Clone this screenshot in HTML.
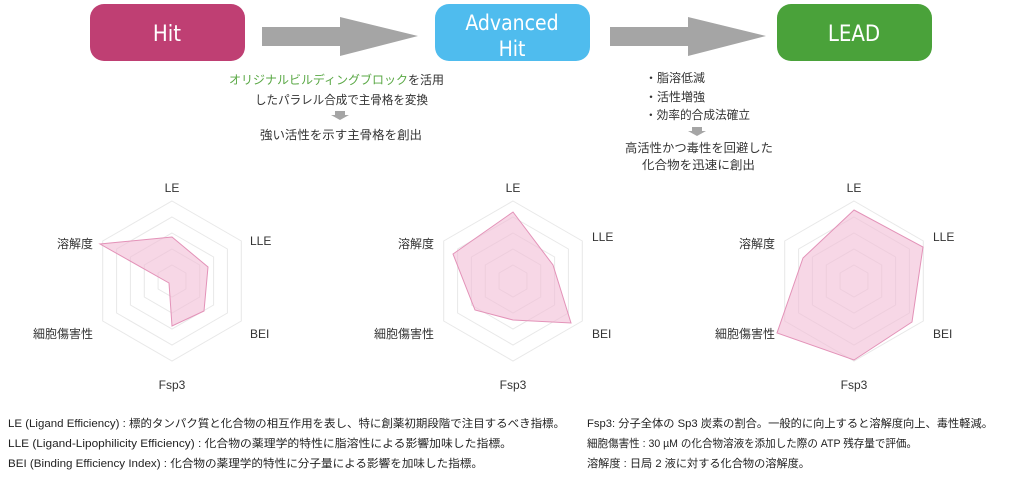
<!DOCTYPE html>
<html><head><meta charset="utf-8"><style>
html,body{margin:0;padding:0;background:#fff;}
svg{display:block;font-family:"Liberation Sans","Noto Sans CJK JP",sans-serif;}
</style></head><body>
<svg width="1024" height="480" viewBox="0 0 1024 480" xmlns="http://www.w3.org/2000/svg">
<defs>
<g id="rings" fill="none" stroke="#e8e8e8" stroke-width="1">
<polygon points="0,-80 69.3,-40 69.3,40 0,80 -69.3,40 -69.3,-40"/>
<polygon points="0,-64 55.4,-32 55.4,32 0,64 -55.4,32 -55.4,-32"/>
<polygon points="0,-48 41.6,-24 41.6,24 0,48 -41.6,24 -41.6,-24"/>
<polygon points="0,-32 27.7,-16 27.7,16 0,32 -27.7,16 -27.7,-16"/>
<polygon points="0,-16 13.9,-8 13.9,8 0,16 -13.9,8 -13.9,-8"/>
</g>
</defs>
<!-- boxes -->
<rect x="90" y="4" width="155" height="57" rx="14" fill="#bf3f73"/>
<text x="167" y="41" font-size="22" fill="#fff" text-anchor="middle" font-family="DejaVu Sans Condensed, DejaVu Sans, sans-serif">Hit</text>
<rect x="435" y="4" width="155" height="57" rx="14" fill="#4fbcee"/>
<text x="512" y="30" font-size="21" fill="#fff" text-anchor="middle" font-family="DejaVu Sans Condensed, DejaVu Sans, sans-serif">Advanced</text>
<text x="512" y="56" font-size="21" fill="#fff" text-anchor="middle" font-family="DejaVu Sans Condensed, DejaVu Sans, sans-serif">Hit</text>
<rect x="777" y="4" width="155" height="57" rx="14" fill="#4aa23a"/>
<text x="854" y="41" font-size="22" fill="#fff" text-anchor="middle" font-family="DejaVu Sans Condensed, DejaVu Sans, sans-serif">LEAD</text>
<!-- arrows -->
<polygon points="262,27 340,27 340,17 418,36 340,56 340,46 262,46" fill="#a5a5a5"/>
<polygon points="610,27 688,27 688,17 766,36 688,56 688,46 610,46" fill="#a5a5a5"/>
<!-- middle text -->
<g font-size="12" fill="#333">
<text x="229" y="84" textLength="215" lengthAdjust="spacingAndGlyphs"><tspan fill="#5aa845">オリジナルビルディングブロック</tspan>を活用</text>
<text x="255" y="104" textLength="173" lengthAdjust="spacingAndGlyphs">したパラレル合成で主骨格を変換</text>
<polygon points="335,111 345,111 345,115 349,115 340,120 331,115 335,115" fill="#a5a5a5"/>
<text x="260" y="139" textLength="162" lengthAdjust="spacingAndGlyphs">強い活性を示す主骨格を創出</text>

<text x="645" y="82">・脂溶低減</text>
<text x="645" y="101">・活性増強</text>
<text x="645" y="119" textLength="105" lengthAdjust="spacingAndGlyphs">・効率的合成法確立</text>
<polygon points="692,127 702,127 702,131 706,131 697,136 688,131 692,131" fill="#a5a5a5"/>
<text x="625" y="152" textLength="148" lengthAdjust="spacingAndGlyphs">高活性かつ毒性を回避した</text>
<text x="642" y="169" textLength="113" lengthAdjust="spacingAndGlyphs">化合物を迅速に創出</text>
</g>
<!-- chart 1 -->
<g transform="translate(172,281)">
<use href="#rings"/>
<polygon points="0,-44 36,-14 32,30 0,45 -3,2 -72,-37" fill="#f2bcd5" fill-opacity="0.6" stroke="#e392b8" stroke-width="1"/>
</g>
<!-- chart 2 -->
<g transform="translate(513,281)">
<use href="#rings"/>
<polygon points="0,-69 40,-16 58,42 0,39 -38,29 -60,-27" fill="#f2bcd5" fill-opacity="0.6" stroke="#e392b8" stroke-width="1"/>
</g>
<!-- chart 3 -->
<g transform="translate(854,281)">
<use href="#rings"/>
<polygon points="0,-71 69,-34 58,41 0,79 -77,52 -51,-23" fill="#f2bcd5" fill-opacity="0.6" stroke="#e392b8" stroke-width="1"/>
</g>
<g font-size="12" fill="#333">
<text x="172" y="192" text-anchor="middle">LE</text>
<text x="250" y="245">LLE</text>
<text x="250" y="338">BEI</text>
<text x="172" y="389" text-anchor="middle">Fsp3</text>
<text x="93" y="248" text-anchor="end">溶解度</text>
<text x="93" y="338" text-anchor="end">細胞傷害性</text>

<text x="513" y="192" text-anchor="middle">LE</text>
<text x="592" y="241">LLE</text>
<text x="592" y="338">BEI</text>
<text x="513" y="389" text-anchor="middle">Fsp3</text>
<text x="434" y="248" text-anchor="end">溶解度</text>
<text x="434" y="338" text-anchor="end">細胞傷害性</text>

<text x="854" y="192" text-anchor="middle">LE</text>
<text x="933" y="241">LLE</text>
<text x="933" y="338">BEI</text>
<text x="854" y="389" text-anchor="middle">Fsp3</text>
<text x="775" y="248" text-anchor="end">溶解度</text>
<text x="775" y="338" text-anchor="end">細胞傷害性</text>
</g>
<!-- footnotes -->
<g font-size="11" fill="#222">
<text x="8" y="427" textLength="557" lengthAdjust="spacingAndGlyphs">LE (Ligand Efficiency) : 標的タンパク質と化合物の相互作用を表し、特に創薬初期段階で注目するべき指標。</text>
<text x="8" y="447" textLength="504" lengthAdjust="spacingAndGlyphs">LLE (Ligand-Lipophilicity Efficiency) : 化合物の薬理学的特性に脂溶性による影響加味した指標。</text>
<text x="8" y="467" textLength="475" lengthAdjust="spacingAndGlyphs">BEI (Binding Efficiency Index) : 化合物の薬理学的特性に分子量による影響を加味した指標。</text>
<text x="587" y="427" textLength="406" lengthAdjust="spacingAndGlyphs">Fsp3: 分子全体の Sp3 炭素の割合。一般的に向上すると溶解度向上、毒性軽減。</text>
<text x="587" y="447" textLength="330" lengthAdjust="spacingAndGlyphs">細胞傷害性 : 30 µM の化合物溶液を添加した際の ATP 残存量で評価。</text>
<text x="587" y="467" textLength="223" lengthAdjust="spacingAndGlyphs">溶解度 : 日局 2 液に対する化合物の溶解度。</text>
</g>
</svg>
</body></html>
